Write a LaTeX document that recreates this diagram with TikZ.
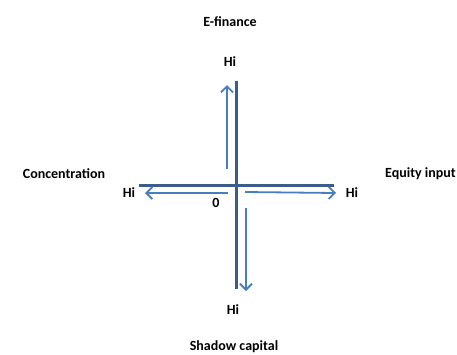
\documentclass[tikz,border=0pt]{standalone}
\usepackage{fontspec}
\setmainfont{Carlito}
\usetikzlibrary{arrows.meta}
\definecolor{axisblue}{RGB}{60,92,140}
\definecolor{arrowblue}{RGB}{74,126,187}
\begin{document}
\begin{tikzpicture}[x=1pt,y=-1pt,
  lbl/.style={font=\fontsize{14}{16}\selectfont\bfseries, inner sep=0pt, text=black},
  axis/.style={draw=axisblue, line width=3pt},
  dirarrow/.style={draw=arrowblue, line width=1.8pt, -{Straight Barb[length=6pt,width=12pt,line width=1.8pt]}}]
\useasboundingbox (0,0) rectangle (457,354);
% labels
\node[lbl] (efin) at (230,22) {E-finance};
\node[lbl] (conc) at (64,174) {Concentration};
\node[lbl, anchor=east] (equity) at (456,174) {Equity input};
\node[lbl] (shadow) at (234,347) {Shadow capital};
\node[lbl] (hitop) at (230,62) {Hi};
\node[lbl] (hibot) at (233,310) {Hi};
\node[lbl] (hileft) at (129,193) {Hi};
\node[lbl] (hiright) at (352,193) {Hi};
\node[lbl] (zero) at (216,203) {0};
% axes
\coordinate (vtop) at (236,81);
\coordinate (vbot) at (236,289);
\coordinate (hleft) at (139,185);
\coordinate (hright) at (334,185);
\draw[axis] (vtop) -- (vbot);
\draw[axis] (hleft) -- (hright);
% direction arrows
\coordinate (ups) at (227,169);
\coordinate (upe) at (227,85);
\coordinate (lefts) at (228,193);
\coordinate (lefte) at (145,193);
\coordinate (rights) at (245,192);
\coordinate (righte) at (336,193);
\coordinate (downs) at (246,208);
\coordinate (downe) at (246,291);
\draw[dirarrow] (ups) -- (upe);
\draw[dirarrow] (lefts) -- (lefte);
\draw[dirarrow] (rights) -- (righte);
\draw[dirarrow] (downs) -- (downe);
\end{tikzpicture}
\end{document}
